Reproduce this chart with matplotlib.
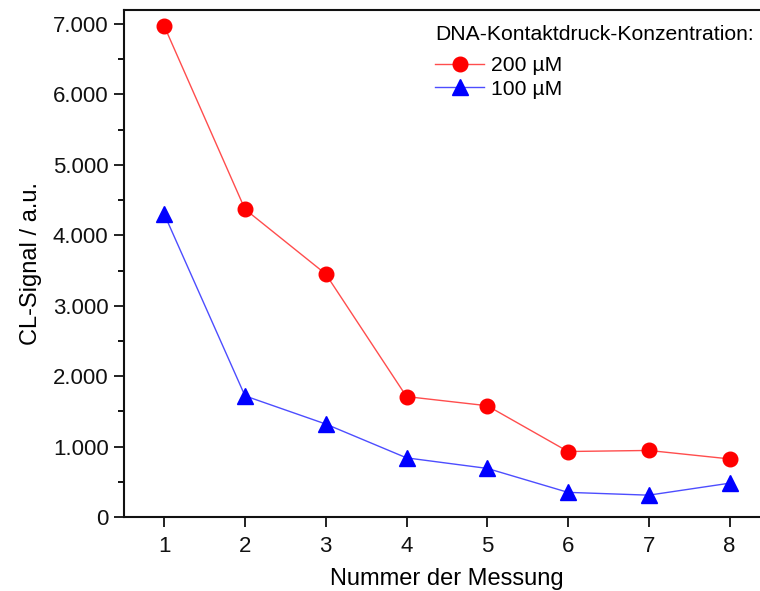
import numpy as np
import matplotlib.pyplot as plt
from matplotlib import ticker

plt.rcParams['font.family'] = ['Liberation Sans', 'DejaVu Sans']

# Messwerte
messung = [1, 2, 3, 4, 5, 6, 7, 8]
signal_200 = [6970, 4370, 3450, 1710, 1580, 930, 945, 825]
signal_100 = [4300, 1720, 1320, 840, 690, 350, 310, 480]
x_ticks = [1, 2, 3, 4, 5, 6, 7, 8]

fig = plt.figure(figsize=(7.6, 5.91), dpi=100)
ax = fig.add_axes([0.163, 0.1252, 0.85, 0.858])

ax.plot(messung, signal_200, color='#ff4d4d', lw=1.0, marker='o', ms=10.5,
        mfc='#ff0000', mec='#ff0000', label='200 µM')
ax.plot(messung, signal_100, color='#4d4dff', lw=1.0, marker='^', ms=11.5,
        mfc='#0000ff', mec='#0000ff', label='100 µM')

ax.set_xlim(0.5, 8.5)
ax.set_ylim(0, 7200)
ax.set_xticks(x_ticks)
ax.yaxis.set_major_locator(ticker.MultipleLocator(1000))
ax.yaxis.set_minor_locator(ticker.MultipleLocator(500))
ax.yaxis.set_major_formatter(ticker.FuncFormatter(
    lambda v, p: f'{int(v):,}'.replace(',', '.')))

ax.tick_params(axis='both', which='major', direction='out', length=7.5,
               width=1.3, labelsize=16, colors='#111111')
ax.tick_params(axis='y', which='minor', direction='out', length=4.3, width=1.3)
ax.tick_params(axis='x', pad=6)
for s in ax.spines.values():
    s.set_linewidth(1.5)
    s.set_color('#111111')
ax.spines['right'].set_visible(False)

ax.set_xlabel('Nummer der Messung', fontsize=17, labelpad=8)
ax.set_ylabel('CL-Signal / a.u.', fontsize=17, labelpad=8)

leg = ax.legend(title='DNA-Kontaktdruck-Konzentration:', loc='upper left',
                bbox_to_anchor=(0.469, 0.987), frameon=False, fontsize=15.2,
                title_fontsize=15.2, handlelength=2.3, handletextpad=0.35,
                borderaxespad=0, labelspacing=0.2)
leg._legend_box.align = 'left'
leg._legend_box.sep = 9  # Abstand Titel -> Einträge

fig.savefig('out.png', dpi=100)
